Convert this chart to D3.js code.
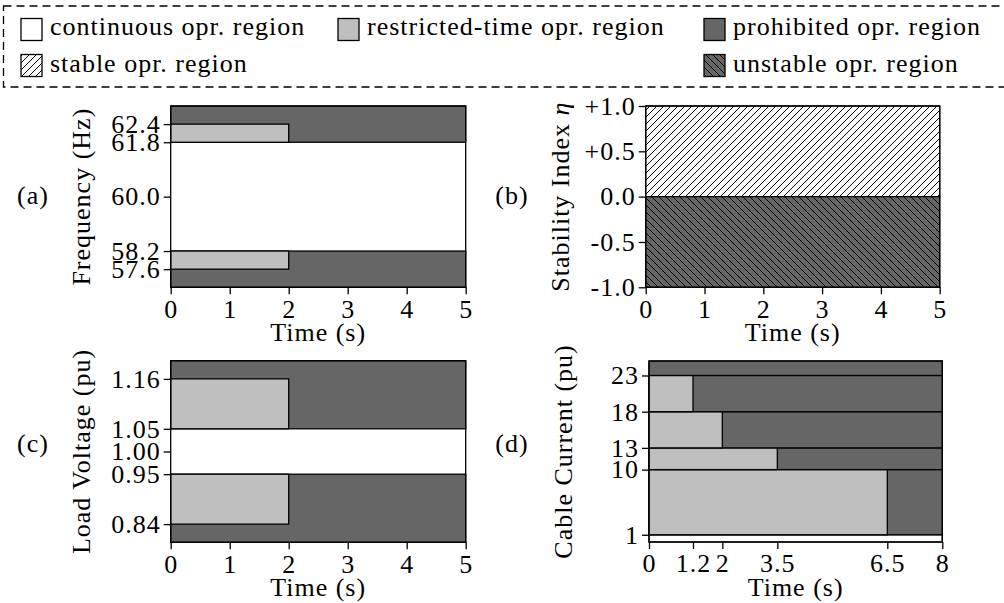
<!DOCTYPE html>
<html><head><meta charset="utf-8">
<script src="https://cdn.jsdelivr.net/npm/d3@7"></script>
<style>
html,body{margin:0;padding:0;background:#fff;}
svg text{font-family:"Liberation Serif","Times New Roman",serif;fill:#000;letter-spacing:1px;}
</style></head>
<body><svg id="chart" width="1004" height="603"></svg>
<script>
// ---------- data ----------
const legendLabels = ["continuous opr. region","restricted-time opr. region","prohibited opr. region","stable opr. region","unstable opr. region"];
const panelLetters = ["(a)","(b)","(c)","(d)"];
const yLabels = ["Frequency (Hz)","Stability Index ","Load Voltage (pu)","Cable Current (pu)"];
const xLabel = "Time (s)";

const timeTicksAC = [0,1,2,3,4,5];
const timeDomainAC = [0,5];
const restrictedTimeAC = 2;

const freqDomain = [57, 63];
const freqTicks = [57.6, 58.2, 60.0, 61.8, 62.4];
const freqContinuous = [58.2, 61.8];
const freqRestricted = [[57.6, 58.2],[61.8, 62.4]];

const stabilityDomain = [-1, 1];
const stabilityTicks = [-1, -0.5, 0, 0.5, 1];
const stabilityTickLabels = ["-1.0","-0.5","0.0","+0.5","+1.0"];
const stableRange = [0, 1];
const unstableRange = [-1, 0];

const voltageDomain = [0.8, 1.2];
const voltageTicks = [0.84, 0.95, 1.00, 1.05, 1.16];
const voltageContinuous = [0.95, 1.05];
const voltageRestricted = [[0.84, 0.95],[1.05, 1.16]];

const currentDomain = [0, 25];
const currentTicks = [1, 10, 13, 18, 23];
const currentContinuous = [0, 1];
const currentBandLow = [1, 10, 13, 18, 23];
const currentBandHigh = [10, 13, 18, 23, 25];
const currentRestrictedTime = [6.5, 3.5, 2, 1.2, 0];
const timeDomainD = [0, 8];
const timeTicksD = [0, 1.2, 2, 3.5, 6.5, 8];

// ---------- style ----------
const C_CONT = "#ffffff", C_REST = "#bfbfbf", C_PROH = "#666666";
const FS = 26;
const LW = 1.3;

const svg = d3.select("#chart");
const defs = svg.append("defs");
function hatch(id, bg, dir){
  const s = 7;
  const p = defs.append("pattern").attr("id",id).attr("patternUnits","userSpaceOnUse")
    .attr("width",s).attr("height",s);
  p.append("rect").attr("width",s).attr("height",s).attr("fill",bg);
  const d = dir==="/" ? `M0,${s} L${s},0 M-1,1 L1,-1 M${s-1},${s+1} L${s+1},${s-1}`
                      : `M0,0 L${s},${s} M-1,${s-1} L1,${s+1} M${s-1},-1 L${s+1},1`;
  p.append("path").attr("d",d).attr("stroke","#000").attr("stroke-width",1);
}
hatch("hStable", "#ffffff", "/");
hatch("hUnstable", C_PROH, "\\");

// ---------- legend ----------
const lg = svg.append("g");
lg.append("rect").attr("x",3.5).attr("y",6).attr("width",1020).attr("height",81)
  .attr("fill","none").attr("stroke","#000").attr("stroke-width",LW).attr("stroke-dasharray","8,5");
const legendItems = [
  {fill:C_CONT, x:21, row:0},
  {fill:C_REST, x:338, row:0},
  {fill:C_PROH, x:704, row:0},
  {fill:"url(#hStable)", x:21, row:1},
  {fill:"url(#hUnstable)", x:704, row:1}
];
legendItems.forEach((it,i)=>{
  const yTop = it.row===0 ? 18.5 : 54.5;
  lg.append("rect").attr("x",it.x).attr("y",yTop).attr("width",21).attr("height",22)
    .attr("fill",it.fill).attr("stroke","#000").attr("stroke-width",LW);
  lg.append("text").attr("x",it.x+29).attr("y",it.row===0?35:72)
    .attr("font-size",FS).text(legendLabels[i]);
});

// ---------- panels ----------
const boxes = [
  {l:170.7, r:465.7, t:106, b:287.3},
  {l:645.7, r:939.7, t:106, b:287.3},
  {l:170.7, r:465.7, t:360.7, b:542.3},
  {l:649, r:942.3, t:361, b:542}
];

function rect(g, x, y, x0, x1, y0, y1, fill){
  g.append("rect").attr("x",x(x0)).attr("y",y(y1))
    .attr("width",x(x1)-x(x0)).attr("height",y(y0)-y(y1))
    .attr("fill",fill).attr("stroke","#000").attr("stroke-width",LW);
}

function axes(g, x, y, box, xt, xfmt, yt, yfmt, idx){
  g.append("g").attr("transform",`translate(0,${box.b})`)
    .call(d3.axisBottom(x).tickValues(xt).tickFormat(xfmt).tickSize(7).tickPadding(5))
    .call(a=>{a.select(".domain").remove();
      a.selectAll("line").attr("stroke","#000").attr("stroke-width",LW);
      a.selectAll("text").attr("font-size",FS).attr("font-family",null);});
  g.append("g").attr("transform",`translate(${box.l},0)`)
    .call(d3.axisLeft(y).tickValues(yt).tickFormat(yfmt).tickSize(7).tickPadding(3))
    .call(a=>{a.select(".domain").remove();
      a.selectAll("line").attr("stroke","#000").attr("stroke-width",LW);
      a.selectAll("text").attr("font-size",FS).attr("font-family",null);});
  g.append("rect").attr("x",box.l).attr("y",box.t).attr("width",box.r-box.l).attr("height",box.b-box.t)
    .attr("fill","none").attr("stroke","#000").attr("stroke-width",LW);
  g.append("text").attr("x",(box.l+box.r)/2).attr("y",box.b+54)
    .attr("text-anchor","middle").attr("font-size",FS).text(xLabel);
  const lx = idx%2===0 ? box.l-81 : box.l-77;
  const yl = g.append("text").attr("transform",`translate(${lx},${(box.t+box.b)/2}) rotate(-90)`)
    .attr("text-anchor","middle").attr("font-size",FS).text(yLabels[idx]);
  if(idx===1) yl.append("tspan").attr("font-style","italic").text("η");
  const px = idx%2===0 ? 33 : 512;
  const py = idx<2 ? 195 : 443;
  g.append("text").attr("x",px).attr("y",py).attr("dy","0.33em")
    .attr("text-anchor","middle").attr("font-size",FS).text(panelLetters[idx]);
}

// (a) frequency
(function(){
  const box = boxes[0], g = svg.append("g");
  const x = d3.scaleLinear().domain(timeDomainAC).range([box.l, box.r]);
  const y = d3.scaleLinear().domain(freqDomain).range([box.b, box.t]);
  rect(g,x,y,timeDomainAC[0],timeDomainAC[1],freqContinuous[1],freqDomain[1],C_PROH);
  rect(g,x,y,timeDomainAC[0],timeDomainAC[1],freqDomain[0],freqContinuous[0],C_PROH);
  freqRestricted.forEach(r=>rect(g,x,y,0,restrictedTimeAC,r[0],r[1],C_REST));
  axes(g,x,y,box,timeTicksAC,d3.format("d"),freqTicks,d3.format(".1f"),0);
})();

// (b) stability
(function(){
  const box = boxes[1], g = svg.append("g");
  const x = d3.scaleLinear().domain(timeDomainAC).range([box.l, box.r]);
  const y = d3.scaleLinear().domain(stabilityDomain).range([box.b, box.t]);
  rect(g,x,y,timeDomainAC[0],timeDomainAC[1],stableRange[0],stableRange[1],"url(#hStable)");
  rect(g,x,y,timeDomainAC[0],timeDomainAC[1],unstableRange[0],unstableRange[1],"url(#hUnstable)");
  axes(g,x,y,box,timeTicksAC,d3.format("d"),stabilityTicks,(d,i)=>stabilityTickLabels[i],1);
})();

// (c) voltage
(function(){
  const box = boxes[2], g = svg.append("g");
  const x = d3.scaleLinear().domain(timeDomainAC).range([box.l, box.r]);
  const y = d3.scaleLinear().domain(voltageDomain).range([box.b, box.t]);
  rect(g,x,y,timeDomainAC[0],timeDomainAC[1],voltageContinuous[1],voltageDomain[1],C_PROH);
  rect(g,x,y,timeDomainAC[0],timeDomainAC[1],voltageDomain[0],voltageContinuous[0],C_PROH);
  voltageRestricted.forEach(r=>rect(g,x,y,0,restrictedTimeAC,r[0],r[1],C_REST));
  axes(g,x,y,box,timeTicksAC,d3.format("d"),voltageTicks,d3.format(".2f"),2);
})();

// (d) current
(function(){
  const box = boxes[3], g = svg.append("g");
  const x = d3.scaleLinear().domain(timeDomainD).range([box.l, box.r]);
  const y = d3.scaleLinear().domain(currentDomain).range([box.b, box.t]);
  rect(g,x,y,timeDomainD[0],timeDomainD[1],currentContinuous[0],currentContinuous[1],C_CONT);
  currentBandLow.forEach((lo,i)=>{
    const hi = currentBandHigh[i], tr = currentRestrictedTime[i];
    rect(g,x,y,timeDomainD[0],timeDomainD[1],lo,hi,C_PROH);
    if(tr>0) rect(g,x,y,timeDomainD[0],tr,lo,hi,C_REST);
  });
  axes(g,x,y,box,timeTicksD,d=>String(d),currentTicks,d3.format("d"),3);
})();
</script></body></html>
